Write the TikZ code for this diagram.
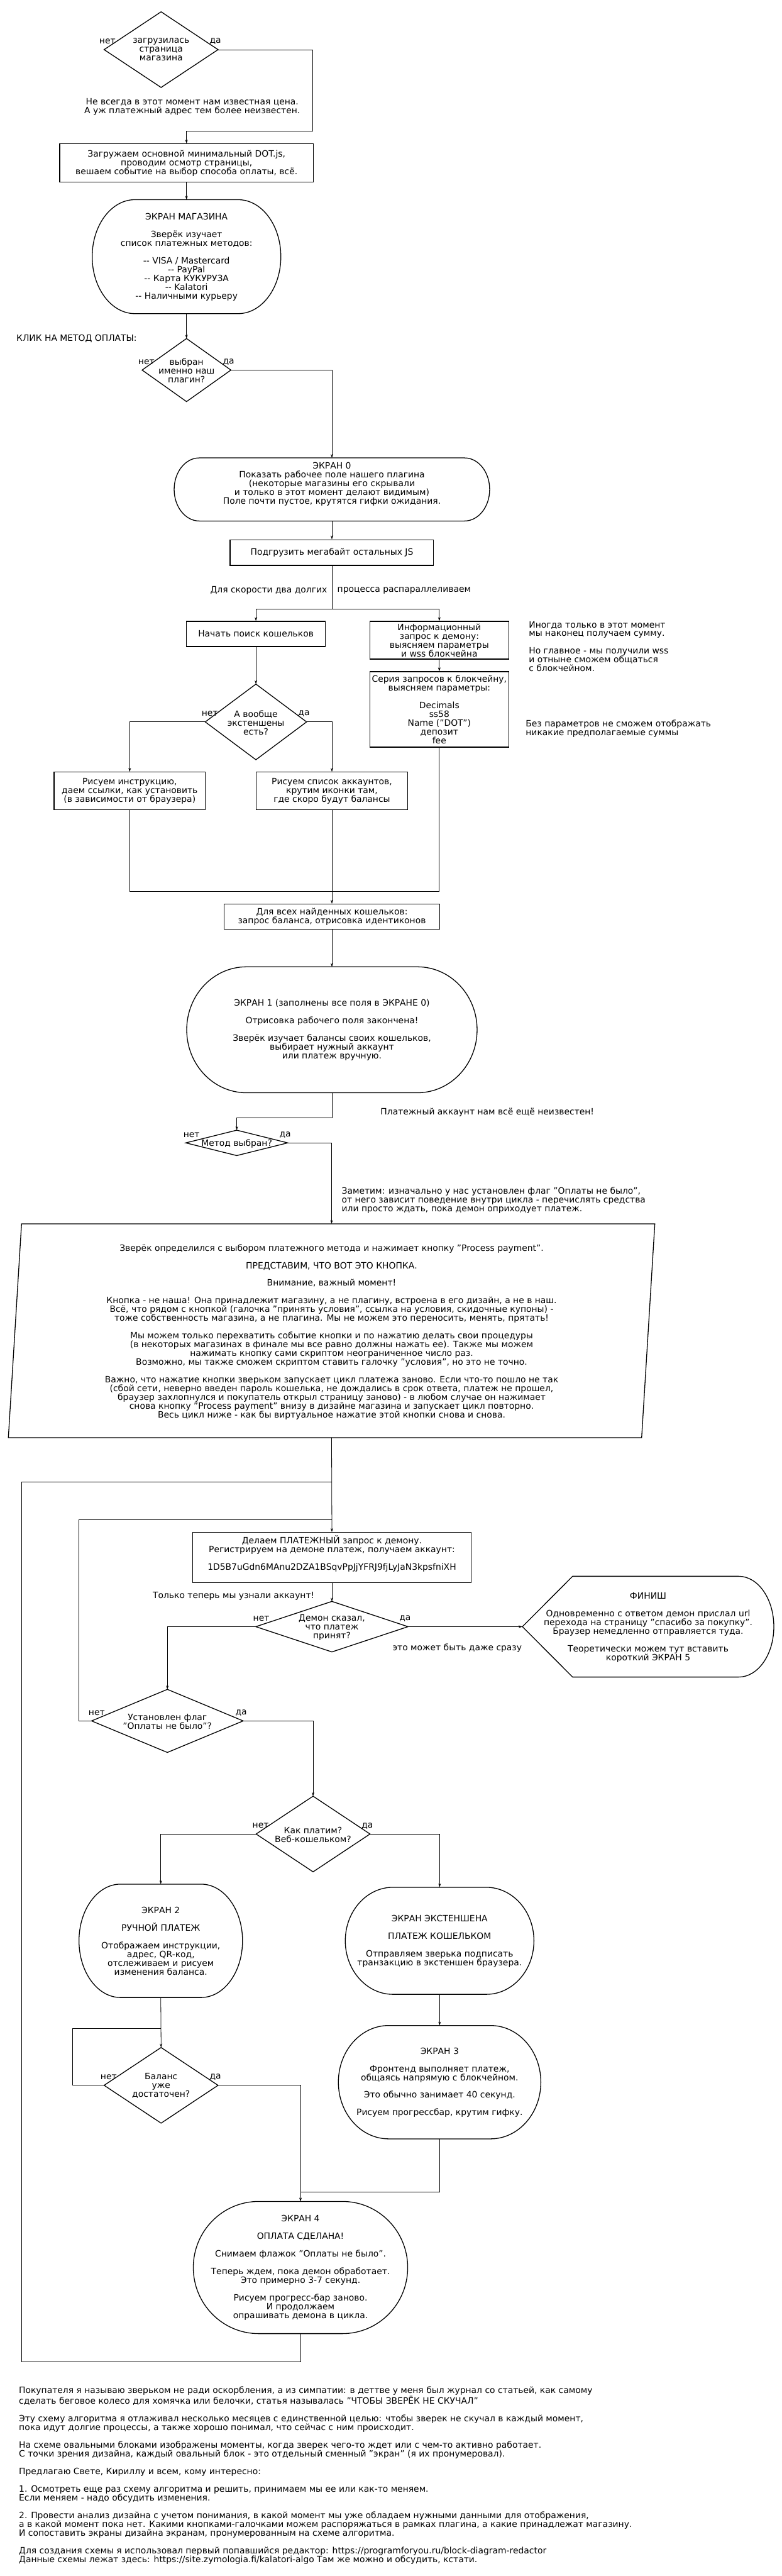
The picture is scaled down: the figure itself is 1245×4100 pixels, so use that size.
\documentclass[tikz,border=0pt]{standalone}
\usepackage{fontspec}
\setmainfont{DejaVu Sans}
\usetikzlibrary{arrows.meta,calc}
\tikzset{
  every node/.style={font=\fontsize{13.9}{14}\selectfont, inner sep=0pt, align=center},
  hid/.style={draw=none, rectangle, inner sep=0pt},
  box/.style={draw, rectangle, line width=1.3pt, inner sep=0pt},
  shp/.style={draw, line width=1.3pt},
  conn/.style={draw, line width=0.8pt},
  arr/.style={conn, -{Stealth[length=6pt,width=4pt]}},
  lt/.style={align=left}
}
\newcommand\diashape[1]{\draw[shp] (#1.north) -- (#1.east) -- (#1.south) -- (#1.west) -- cycle;}
\newcommand\screenshape[2]{%
  \draw[shp] let \p1=(#1.north west), \p2=(#1.south east) in
   ({\x1+#2},\y1) -- ({\x2-#2},\y1)
   .. controls ({\x2-0.448*#2},\y1) and (\x2,{\y1-0.224*(\y1-\y2)}) .. (\x2,{0.5*\y1+0.5*\y2})
   .. controls (\x2,{\y2+0.224*(\y1-\y2)}) and ({\x2-0.448*#2},\y2) .. ({\x2-#2},\y2)
   -- ({\x1+#2},\y2)
   .. controls ({\x1+0.448*#2},\y2) and (\x1,{\y2+0.224*(\y1-\y2)}) .. (\x1,{0.5*\y1+0.5*\y2})
   .. controls (\x1,{\y1-0.224*(\y1-\y2)}) and ({\x1+0.448*#2},\y1) .. ({\x1+#2},\y1) -- cycle;}
\begin{document}
\begin{tikzpicture}[x=1pt,y=-1pt]
\fill[white] (0,0) rectangle (1245,4100);
\useasboundingbox (0,0) rectangle (1245,4100);

% ---------- top
\node[hid, minimum width=181pt, minimum height=120pt] (d1) at (256.5,79) {};
\diashape{d1}
\node (d1t) at (d1) {загрузилась\\страница\\магазина};
\node (d1n) at (171,66) {нет};
\node (d1y) at (343,66) {да};

\node (note1) at (306,170) {Не всегда в этот момент нам известная цена.\\А уж платежный адрес тем более неизвестен.};

\node[box, minimum width=404pt, minimum height=61pt] (box1) at (297,259.5) {};
\node (box1t) at (box1) {Загружаем основной минимальный DOT.js,\\проводим осмотр страницы,\\вешаем событие на выбор способа оплаты, всё.};

\node[hid, minimum width=300pt, minimum height=181pt] (shop) at (297,408.5) {};
\screenshape{shop}{68pt}
\node (shopt) at (297,409.5) {ЭКРАН МАГАЗИНА\\[14pt]Зверёк изучает\\список платежных методов:\\[14pt]-\kern0pt- VISA / Mastercard\\-\kern0pt- PayPal\\-\kern0pt- Карта КУКУРУЗА\\-\kern0pt- Kalatori\\-\kern0pt- Наличными курьеру};

\node[anchor=west] (click) at (26,539) {КЛИК НА МЕТОД ОПЛАТЫ:};

\node[hid, minimum width=141pt, minimum height=100pt] (d2) at (297,589) {};
\diashape{d2}
\node (d2t) at (297,590) {выбран\\именно наш\\плагин?};
\node (d2n) at (233,576) {нет};
\node (d2y) at (364,576) {да};

% ---------- screen 0
\node[hid, minimum width=502pt, minimum height=100pt] (scr0) at (528.5,779) {};
\screenshape{scr0}{40pt}
\node (scr0t) at (528.5,771) {ЭКРАН 0\\Показать рабочее поле нашего плагина\\(некоторые магазины его скрывали\\и только в этот момент делают видимым)\\Поле почти пустое, крутятся гифки ожидания.};

\node[box, minimum width=324pt, minimum height=41pt] (js) at (528.5,879.5) {};
\node (jst) at (js) {Подгрузить мегабайт остальных JS};

\node[anchor=east] (par1) at (521,940) {Для скорости два долгих};
\node[anchor=west] (par2) at (537,940) {процесса распараллеливаем};

\node[box, minimum width=221pt, minimum height=40pt] (search) at (407.5,1009) {};
\node (searcht) at (search) {Начать поиск кошельков};

\node[box, minimum width=221pt, minimum height=60pt] (info) at (699.5,1019) {};
\node (infot) at (info) {Информационный\\запрос к демону:\\выясняем параметры\\и wss блокчейна};

\node[anchor=west, lt] (note2) at (842,1029) {Иногда только в этот момент\\мы наконец получаем сумму.\\[14pt]Но главное - мы получили wss\\и отныне сможем общаться\\с блокчейном.};

\node[box, minimum width=221pt, minimum height=120pt] (series) at (699.5,1129) {};
\node (seriest) at (series) {Серия запросов к блокчейну,\\выясняем параметры:\\[14pt]Decimals\\ss58\\Name ("DOT")\\депозит\\fee};

\node[anchor=west, lt] (note3) at (837,1160) {Без параметров не сможем отображать\\никакие предполагаемые суммы};

\node[hid, minimum width=161pt, minimum height=120pt] (d3) at (407.5,1149) {};
\diashape{d3}
\node (d3t) at (407.5,1150) {А вообще\\экстеншены\\есть?};
\node (d3n) at (334,1136) {нет};
\node (d3y) at (484,1136) {да};

\node[box, minimum width=241pt, minimum height=60pt] (instr) at (206.5,1259) {};
\node (instrt) at (instr) {Рисуем инструкцию,\\даем ссылки, как установить\\(в зависимости от браузера)};

\node[box, minimum width=241pt, minimum height=60pt] (accts) at (528.5,1259) {};
\node (acctst) at (accts) {Рисуем список аккаунтов,\\крутим иконки там,\\где скоро будут балансы};

\node[box, minimum width=343pt, minimum height=40pt] (allw) at (528.5,1459) {};
\node (allwt) at (allw) {Для всех найденных кошельков:\\запрос баланса, отрисовка идентиконов};

\node[hid, minimum width=462pt, minimum height=200pt] (scr1) at (528.5,1639) {};
\screenshape{scr1}{95pt}
\node (scr1t) at (528.5,1639.5) {ЭКРАН 1 (заполнены все поля в ЭКРАНЕ 0)\\[14pt]Отрисовка рабочего поля закончена!\\[14pt]Зверёк изучает балансы своих кошельков,\\выбирает нужный аккаунт\\или платеж вручную.};

\node (note4) at (776,1770) {Платежный аккаунт нам всё ещё неизвестен!};

\node[hid, minimum width=162pt, minimum height=40pt] (d4) at (377,1819) {};
\diashape{d4}
\node (d4t) at (377,1820) {Метод выбран?};
\node (d4n) at (305,1806) {нет};
\node (d4y) at (454,1806) {да};

\node[anchor=west, lt] (note5) at (544,1910) {Заметим: изначально у нас установлен флаг "Оплаты не было",\\от него зависит поведение внутри цикла - перечислять средства\\или просто ждать, пока демон оприходует платеж.};

% ---------- process payment parallelogram
\node[hid, minimum width=1008pt, minimum height=340pt] (proc) at (528,2118) {};
\draw[shp] ([xshift=10.5pt]proc.north west) -- ([xshift=10.5pt]proc.north east) -- ([xshift=-10.5pt]proc.south east) -- ([xshift=-10.5pt]proc.south west) -- cycle;
\node (proct) at (528,2120) {Зверёк определился с выбором платежного метода и нажимает кнопку "Process payment".\\[14pt]
ПРЕДСТАВИМ, ЧТО ВОТ ЭТО КНОПКА.\\[14pt]
Внимание, важный момент!\\[14pt]
Кнопка - не наша! Она принадлежит магазину, а не плагину, встроена в его дизайн, а не в наш.\\
Всё, что рядом с кнопкой (галочка "принять условия", ссылка на условия, скидочные купоны) -\\
тоже собственность магазина, а не плагина. Мы не можем это переносить, менять, прятать!\\[14pt]
Мы можем только перехватить событие кнопки и по нажатию делать свои процедуры\\
(в некоторых магазинах в финале мы все равно должны нажать ее). Также мы можем\\
нажимать кнопку сами скриптом неограниченное число раз.\\
Возможно, мы также сможем скриптом ставить галочку "условия", но это не точно.\\[14pt]
Важно, что нажатие кнопки зверьком запускает цикл платежа заново. Если что-то пошло не так\\
(сбой сети, неверно введен пароль кошелька, не дождались в срок ответа, платеж не прошел,\\
браузер захлопнулся и покупатель открыл страницу заново) - в любом случае он нажимает\\
снова кнопку "Process payment" внизу в дизайне магазина и запускает цикл повторно.\\
Весь цикл ниже - как бы виртуальное нажатие этой кнопки снова и снова.};

% ---------- payment request
\node[box, minimum width=444pt, minimum height=80pt] (pay) at (528.5,2479) {};
\node (payt) at (528.5,2473) {Делаем ПЛАТЕЖНЫЙ запрос к демону.\\Регистрируем на демоне платеж, получаем аккаунт:\\[14pt]1D5B7uGdn6MAnu2DZA1BSqvPpJjYFRJ9fjLyJaN3kpsfniXH};

\node (note6) at (372,2540) {Только теперь мы узнали аккаунт!};

\node[hid, minimum width=242pt, minimum height=80pt] (d5) at (528.5,2589) {};
\diashape{d5}
\node (d5t) at (528.5,2590) {Демон сказал,\\что платеж\\принят?};
\node (d5n) at (416,2576) {нет};
\node (d5y) at (645,2576) {да};

\node[hid, minimum width=400pt, minimum height=160pt] (fin) at (1032,2589) {};
\draw[shp] let \p1=(fin.north west), \p2=(fin.south east) in
  (fin.west) -- ({\x1+80pt},\y1) -- ({\x2-56pt},\y1)
  .. controls ({\x2-0.448*56pt},\y1) and (\x2,{\y1-0.224*(\y1-\y2)}) .. (fin.east)
  .. controls (\x2,{\y2+0.224*(\y1-\y2)}) and ({\x2-0.448*56pt},\y2) .. ({\x2-56pt},\y2)
  -- ({\x1+80pt},\y2) -- cycle;
\node (fint) at (1032,2590) {ФИНИШ\\[14pt]Одновременно с ответом демон прислал url\\перехода на страницу "спасибо за покупку".\\Браузер немедленно отправляется туда.\\[14pt]Теоретически можем тут вставить\\короткий ЭКРАН 5};

\node (note7) at (728,2623) {это может быть даже сразу};

\node[hid, minimum width=241pt, minimum height=100pt] (d6) at (266.5,2739) {};
\diashape{d6}
\node (d6t) at (266.5,2740) {Установлен флаг\\"Оплаты не было"?};
\node (d6n) at (154,2726) {нет};
\node (d6y) at (384,2726) {да};

\node[hid, minimum width=181pt, minimum height=120pt] (d7) at (498.5,2919) {};
\diashape{d7}
\node (d7t) at (498.5,2920) {Как платим?\\Веб-кошельком?};
\node (d7n) at (415,2906) {нет};
\node (d7y) at (585,2906) {да};

\node[hid, minimum width=260pt, minimum height=180pt] (scr2) at (256,3089) {};
\screenshape{scr2}{66pt}
\node (scr2t) at (256,3089.5) {ЭКРАН 2\\[14pt]РУЧНОЙ ПЛАТЕЖ\\[14pt]Отображаем инструкции,\\адрес, QR-код,\\отслеживаем и рисуем\\изменения баланса.};

\node[hid, minimum width=300pt, minimum height=170pt] (scre) at (700,3089) {};
\screenshape{scre}{76pt}
\node (scret) at (700,3089.5) {ЭКРАН ЭКСТЕНШЕНА\\[14pt]ПЛАТЕЖ КОШЕЛЬКОМ\\[14pt]Отправляем зверька подписать\\транзакцию в экстеншен браузера.};

\node[hid, minimum width=181pt, minimum height=120pt] (d8) at (256.5,3319) {};
\diashape{d8}
\node (d8t) at (256.5,3320) {Баланс\\уже\\достаточен?};
\node (d8n) at (173,3306) {нет};
\node (d8y) at (343,3306) {да};

\node[hid, minimum width=322pt, minimum height=180pt] (scr3) at (700,3314) {};
\screenshape{scr3}{80pt}
\node (scr3t) at (700,3314.5) {ЭКРАН 3\\[14pt]Фронтенд выполняет платеж,\\общаясь напрямую с блокчейном.\\[14pt]Это обычно занимает 40 секунд.\\[14pt]Рисуем прогрессбар, крутим гифку.};

\node[hid, minimum width=341pt, minimum height=210pt] (scr4) at (478.5,3609) {};
\screenshape{scr4}{104pt}
\node (scr4t) at (478.5,3609.5) {ЭКРАН 4\\[14pt]ОПЛАТА СДЕЛАНА!\\[14pt]Снимаем флажок "Оплаты не было".\\[14pt]Теперь ждем, пока демон обработает.\\Это примерно 3-7 секунд.\\[14pt]Рисуем прогресс-бар заново.\\И продолжаем\\опрашивать демона в цикла.};

% ---------- footer
\node[anchor=west, lt] (footer) at (30,3940) {Покупателя я называю зверьком не ради оскорбления, а из симпатии: в деттве у меня был журнал со статьей, как самому\\
сделать беговое колесо для хомячка или белочки, статья называлась "ЧТОБЫ ЗВЕРЁК НЕ СКУЧАЛ"\\[14pt]
Эту схему алгоритма я отлаживал несколько месяцев с единственной целью: чтобы зверек не скучал в каждый момент,\\
пока идут долгие процессы, а также хорошо понимал, что сейчас с ним происходит.\\[14pt]
На схеме овальными блоками изображены моменты, когда зверек чего-то ждет или с чем-то активно работает.\\
С точки зрения дизайна, каждый овальный блок - это отдельный сменный "экран" (я их пронумеровал).\\[14pt]
Предлагаю Свете, Кириллу и всем, кому интересно:\\[14pt]
1. Осмотреть еще раз схему алгоритма и решить, принимаем мы ее или как-то меняем.\\
Если меняем - надо обсудить изменения.\\[14pt]
2. Провести анализ дизайна с учетом понимания, в какой момент мы уже обладаем нужными данными для отображения,\\
а в какой момент пока нет. Какими кнопками-галочками можем распоряжаться в рамках плагина, а какие принадлежат магазину.\\
И сопоставить экраны дизайна экранам, пронумерованным на схеме алгоритма.\\[14pt]
Для создания схемы я использовал первый попавшийся редактор: https://programforyou.ru/block-diagram-redactor\\
Данные схемы лежат здесь: https://site.zymologia.fi/kalatori-algo Там же можно и обсудить, кстати.};

% ---------- coordinates
\coordinate (split) at (528.5,969);
\coordinate (join1) at (528.5,1419);
\coordinate (j2) at (528.5,2359);
\coordinate (j3) at (528.5,2419);
\coordinate (j4) at (256.5,3229);
\coordinate (j5) at (478.5,3489);
\coordinate (loopc) at (34,3759);

% ---------- connectors
\draw[arr] (d1.east) -- ++(150.5,0) |- ([yshift=20pt]box1.north) -- (box1.north);
\draw[arr] (box1.south) -- (shop.north);
\draw[arr] (shop.south) -- (d2.north);
\draw[arr] (d2.east) -| (scr0.north);
\draw[arr] (scr0.south) -- (js.north);
\draw[conn] (js.south) -- (split);
\draw[arr] (split) -| (search.north);
\draw[arr] (split) -| (info.north);
\draw[arr] (search.south) -- (d3.north);
\draw[arr] (info.south) -- (series.north);
\draw[arr] (d3.west) -| (instr.north);
\draw[arr] (d3.east) -| (accts.north);
\draw[conn] (instr.south) |- (join1);
\draw[conn] (series.south) |- (join1);
\draw[arr] (accts.south) -- (allw.north);
\draw[arr] (allw.south) -- (scr1.north);
\draw[arr] (scr1.south) -- ++(0,40) -| (d4.north);
\draw[arr] (d4.east) -| (proc.north);
\draw[arr] (proc.south) -- (pay.north);
\draw[arr] (pay.south) -- (d5.north);
\draw[arr] (d5.east) -- (fin.west);
\draw[arr] (d5.west) -| (d6.north);
\draw[conn] (d6.west) -- ++(-20,0) |- (j3);
\draw[arr] (d6.east) -| (d7.north);
\draw[arr] (d7.west) -| (scr2.north);
\draw[arr] (d7.east) -| (scre.north);
\draw[arr] (scr2.south) -- (d8.north);
\draw[conn] (d8.west) -- ++(-50,0) |- (j4);
\draw[arr] (d8.east) -| (scr4.north);
\draw[arr] (scre.south) -- (scr3.north);
\draw[conn] (scr3.south) |- (j5);
\draw[conn] (scr4.south) |- (loopc) |- (j2);
\end{tikzpicture}
\end{document}
